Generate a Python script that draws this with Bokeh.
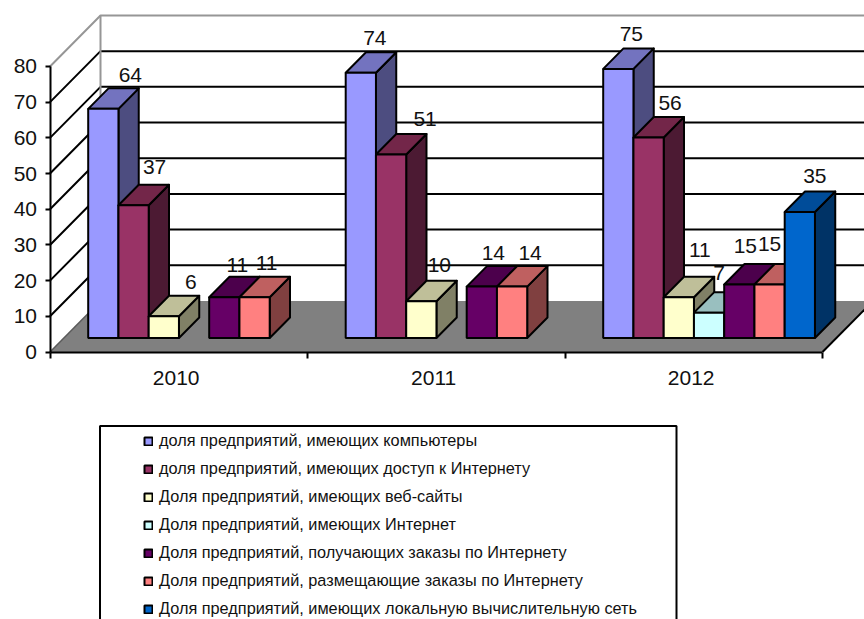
from bokeh.embed import file_html
from bokeh.resources import INLINE
from bokeh.plotting import figure
from bokeh.models import ColumnDataSource, FixedTicker, Legend, LegendItem, LinearAxis, Range1d
from bokeh.core.properties import value

years = ["2010", "2011", "2012"]
series_names = [
    "доля предприятий, имеющих компьютеры",
    "доля предприятий, имеющих доступ к Интернету",
    "Доля предприятий, имеющих веб-сайты",
    "Доля предприятий, имеющих Интернет",
    "Доля предприятий, получающих заказы по Интернету",
    "Доля предприятий, размещающие заказы по Интернету",
    "Доля предприятий, имеющих локальную вычислительную сеть",
]
computers = [64.2, 74.3, 75.4]
internet_access = [37.2, 51.4, 56.2]
websites = [6.1, 10.3, 11.4]
internet = [None, None, 7.1]
orders_received = [11.4, 14.4, 15.0]
orders_placed = [11.4, 14.4, 15.0]
local_network = [None, None, 35.3]
series_values = [computers, internet_access, websites, internet, orders_received, orders_placed, local_network]
y_ticks = [0, 10, 20, 30, 40, 50, 60, 70, 80]

front_colors = ["#9999FF", "#993366", "#FFFFCC", "#CCFFFF", "#660066", "#FF8080", "#0066CC"]
top_colors = ["#7373BF", "#732649", "#BFBF99", "#99BFBF", "#4C004C", "#BF6060", "#004C99"]
side_colors = ["#4D4D80", "#4C1A33", "#808066", "#668080", "#330033", "#804040", "#003366"]

# Layout: pixel calibration of the oblique projection
PX0, PX_CAT = 49.5, 257.5
PY0, PY_UNIT = 351.5, 3.569
W, H = 864, 619
DEPTH_X = 50.5 / PX_CAT
DEPTH_Y = 51 / PY_UNIT
BAR_W = 30.25 / PX_CAT
BAR_D0, BAR_D1 = 14 / 51, 34.5 / 51
GROUP_PAD = (38.2 - 50.5 * BAR_D0) / PX_CAT
RIGHT = 3.0
FONT_PX = "21px"


def proj(x, y, d):
    return x + DEPTH_X * d, y + DEPTH_Y * d


def sx(px):
    return (px - PX0) / PX_CAT


def sy(py):
    return (PY0 - py) / PY_UNIT


p = figure(width=W, height=H, output_backend="svg", toolbar_location=None,
           x_range=Range1d(sx(0), sx(W)), y_range=Range1d(sy(H), sy(0)),
           min_border=0, min_border_left=0, min_border_right=0, min_border_top=0, min_border_bottom=0,
           x_axis_type=None, y_axis_type=None)
p.grid.visible = False
p.outline_line_color = None
p.background_fill_color = "white"

# Floor
fx, fy = zip(*[proj(0, 0, 0), proj(RIGHT, 0, 0), proj(RIGHT, 0, 1), proj(0, 0, 1)])
p.patch(list(fx), list(fy), fill_color="#808080", line_color=None)
x0, y0 = proj(0, 0, 1)
p.line([0, x0], [0, y0], line_color="#5a5a5a", line_width=1.5)
x1, y1 = proj(RIGHT, 0, 1)
p.line([RIGHT, x1], [0, y1], line_color="black", line_width=2)

# Walls and gridlines
for t in y_ticks[1:]:
    c = "#969696" if t == y_ticks[-1] else "black"
    xb, yb = proj(0, t, 1)
    xr, yr = proj(RIGHT, t, 1)
    p.line([0, xb, xr], [t, yb, yr], line_color=c, line_width=2)
xb, yb0 = proj(0, 0, 1)
_, yb1 = proj(0, y_ticks[-1], 1)
p.line([xb, xb], [yb0, yb1], line_color="#969696", line_width=2)

# Bars
legend_items = []
label_x, label_y, label_text, label_dx, label_dy = [], [], [], [], []
offsets = {
    (0, 0): (27, 34), (0, 1): (14, 35), (0, 2): (13, 35),
    (1, 0): (21, 38), (1, 1): (34, 36), (1, 2): (21.5, 34),
    (2, 0): (27, 34), (2, 1): (18, 36), (2, 2): (21, 47),
    (3, 2): (10, 40),
    (4, 0): (13, 32), (4, 1): (11.5, 34), (4, 2): (6, 38),
    (5, 0): (12, 34), (5, 1): (18, 34), (5, 2): (0, 40),
    (6, 2): (15, 35.6),
}
for s, (name, vals) in enumerate(zip(series_names, series_values)):
    left, right, top, bottom = [], [], [], []
    for g, v in enumerate(vals):
        if v is None:
            continue
        xl = g + GROUP_PAD + s * BAR_W
        xr = xl + BAR_W
        a_x, a_y = proj(xl, 0, BAR_D0)
        b_x, b_y = proj(xr, 0, BAR_D0)
        c_x, c_y = proj(xr, 0, BAR_D1)
        d_x, d_y = proj(xl, 0, BAR_D1)
        p.patch([b_x, c_x, c_x, b_x], [b_y, c_y, c_y + v, b_y + v],
                fill_color=side_colors[s], line_color="black", line_width=2, line_join="round")
        p.patch([a_x, b_x, c_x, d_x], [a_y + v, b_y + v, c_y + v, d_y + v],
                fill_color=top_colors[s], line_color="black", line_width=2, line_join="round")
        left.append(a_x); right.append(b_x); bottom.append(a_y); top.append(a_y + v)
        dx, dy = offsets[(s, g)]
        label_x.append((a_x + b_x) / 2); label_y.append(a_y + v)
        label_text.append(str(round(v))); label_dx.append(dx); label_dy.append(-dy)
    r = p.quad(left=left, right=right, top=top, bottom=bottom, fill_color=front_colors[s],
               line_color="black", line_width=2)
    legend_items.append(LegendItem(label=value(name), renderers=[r]))

# Axes
x_axis_line = LinearAxis(fixed_location=0, bounds=(0, RIGHT), ticker=FixedTicker(ticks=[0, 1, 2, 3]),
                         major_label_text_font_size="0px", major_tick_in=0, major_tick_out=6,
                         minor_tick_out=0, minor_tick_in=0, axis_line_width=2, major_tick_line_width=2)
x_axis_line.major_label_overrides = {0: "", 1: "", 2: "", 3: ""}
p.add_layout(x_axis_line, "below")

centers = [g + 0.49 for g in range(len(years))]
x_axis_labels = LinearAxis(fixed_location=0, ticker=FixedTicker(ticks=centers),
                           major_label_overrides=dict(zip(centers, years)),
                           major_label_text_font="Liberation Sans", major_label_text_font_size=FONT_PX,
                           major_label_text_color="#111111", major_label_standoff=13,
                           major_tick_line_color=None, minor_tick_line_color=None, axis_line_color=None)
p.add_layout(x_axis_labels, "below")

y_axis = LinearAxis(fixed_location=0, bounds=(0, 80), ticker=FixedTicker(ticks=y_ticks),
                    major_label_text_font="Liberation Sans", major_label_text_font_size=FONT_PX,
                    major_label_text_color="#111111", major_label_standoff=8,
                    major_tick_in=0, major_tick_out=5, minor_tick_out=0, minor_tick_in=0,
                    axis_line_width=2, major_tick_line_width=2)
p.add_layout(y_axis, "left")

# Data labels
src = ColumnDataSource(dict(x=label_x, y=label_y, t=label_text, dx=label_dx, dy=label_dy))
p.text(x="x", y="y", text="t", x_offset="dx", y_offset="dy", source=src,
       text_font=value("Liberation Sans"), text_font_size=FONT_PX, text_align="center",
       text_baseline="middle", text_color="#111111")

# Legend frame runs off the bottom of the picture
p.quad(left=[sx(99.5)], right=[sx(676)], top=[sy(425.5)], bottom=[sy(640)],
       fill_color="white", line_color="black", line_width=2)
legend = Legend(items=legend_items, location=(143, 1), orientation="vertical",
                label_text_font="Liberation Sans", label_text_font_size="16.3px", label_text_color="#111111",
                glyph_height=10, glyph_width=10, label_standoff=6, spacing=9,
                padding=0, margin=0, border_line_color=None, background_fill_alpha=0)
p.add_layout(legend, "center")

open("out.html", "w").write(file_html(p, INLINE))
